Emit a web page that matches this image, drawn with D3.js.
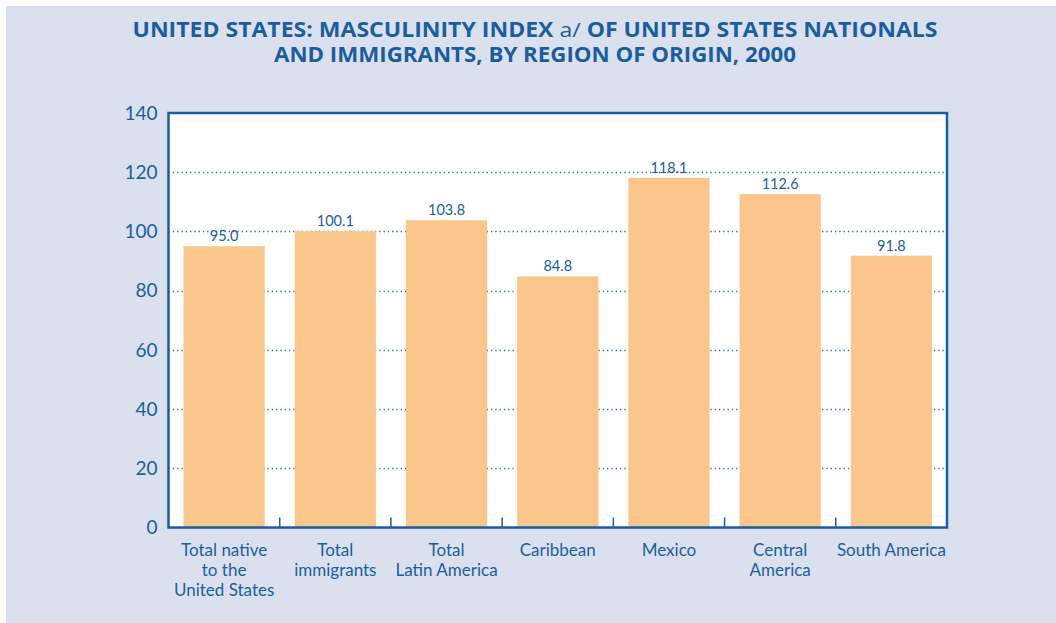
<!DOCTYPE html>
<html>
<head>
<meta charset="utf-8">
<script src="https://cdn.jsdelivr.net/npm/d3@7"></script>
<style>
  body { margin: 0; background: #fff; }
  text { font-family: Lato, "Open Sans", sans-serif; fill: #1b5e9f; }
  .title text { font-family: "Open Sans", sans-serif; }
</style>
</head>
<body>
<svg width="1056" height="623"></svg>
<script>
// data
var categories = [
    ["Total native", "to the", "United States"],
    ["Total", "immigrants"],
    ["Total", "Latin America"],
    ["Caribbean"],
    ["Mexico"],
    ["Central", "America"],
    ["South America"]
];
var values = [95.0, 100.1, 103.8, 84.8, 118.1, 112.6, 91.8];
var yTicks = [0, 20, 40, 60, 80, 100, 120, 140];

var blue = "#1b5e9f";
var svg = d3.select("svg");

// background panel
svg.append("rect")
    .attr("x", 6).attr("y", 6)
    .attr("width", 1050).attr("height", 617)
    .attr("fill", "#dbe0ee");

// title
var title = svg.append("g").attr("class", "title").attr("font-weight", "bold").attr("font-size", 20.5);
var t1 = title.append("text").attr("x", 535).attr("y", 37).attr("text-anchor", "middle")
    .attr("textLength", 805).attr("lengthAdjust", "spacingAndGlyphs");
t1.append("tspan").text("UNITED STATES: MASCULINITY INDEX ");
t1.append("tspan").attr("font-weight", "normal").text("a/");
t1.append("tspan").text(" OF UNITED STATES NATIONALS");
title.append("text").attr("x", 535).attr("y", 61.5).attr("text-anchor", "middle")
    .attr("textLength", 522).attr("lengthAdjust", "spacingAndGlyphs")
    .text("AND IMMIGRANTS, BY REGION OF ORIGIN, 2000");

// plot area
var pLeft = 168.5, pTop = 113, pRight = 947, pBottom = 527.5;
var w = pRight - pLeft, h = pBottom - pTop;

var x = d3.scaleBand()
    .domain(d3.range(categories.length))
    .range([0, w])
    .paddingInner(0.27)
    .paddingOuter(0.135);

var y = d3.scaleLinear().domain([0, 140]).range([h, 0]);

var g = svg.append("g").attr("transform", "translate(" + pLeft + "," + pTop + ")");

g.append("rect")
    .attr("width", w).attr("height", h)
    .attr("fill", "#fff");

// grid
g.selectAll(".grid")
    .data(yTicks.slice(1, -1))
    .enter()
    .append("line")
    .attr("x1", 0).attr("x2", w)
    .attr("y1", function (d) { return Math.round(y(d)) + 0.5; })
    .attr("y2", function (d) { return Math.round(y(d)) + 0.5; })
    .attr("stroke", "#2c6cab")
    .attr("stroke-width", 1.3)
    .attr("stroke-dasharray", "1.3,3");

// bars
g.selectAll(".bar")
    .data(values)
    .enter()
    .append("rect")
    .attr("x", function (d, i) { return x(i); })
    .attr("y", function (d) { return y(d); })
    .attr("width", x.bandwidth())
    .attr("height", function (d) { return h - y(d); })
    .attr("fill", "#fbc68b");

// value labels
g.selectAll(".val")
    .data(values)
    .enter()
    .append("text")
    .attr("x", function (d, i) { return x(i) + x.bandwidth() / 2; })
    .attr("y", function (d) { return y(d) - 5; })
    .attr("text-anchor", "middle")
    .attr("font-size", 14.5)
    .text(function (d) { return d.toFixed(1); });

// category ticks between bars
g.selectAll(".ctick")
    .data(d3.range(1, categories.length))
    .enter()
    .append("line")
    .attr("x1", function (i) { return x.step() * i; })
    .attr("x2", function (i) { return x.step() * i; })
    .attr("y1", h).attr("y2", h - 10)
    .attr("stroke", blue)
    .attr("stroke-width", 1.5);

// frame
g.append("rect")
    .attr("width", w).attr("height", h)
    .attr("fill", "none")
    .attr("stroke", blue)
    .attr("stroke-width", 2.5);

// y axis labels
g.selectAll(".ytick")
    .data(yTicks)
    .enter()
    .append("text")
    .attr("x", -11)
    .attr("y", function (d) { return y(d); })
    .attr("dy", "0.35em")
    .attr("text-anchor", "end")
    .attr("font-size", 19)
    .text(function (d) { return d; });

// category labels
var cl = g.selectAll(".cat")
    .data(categories)
    .enter()
    .append("text")
    .attr("text-anchor", "middle")
    .attr("font-size", 17)
    .attr("transform", function (d, i) { return "translate(" + (x(i) + x.bandwidth() / 2) + "," + (h + 28) + ")"; });

cl.selectAll("tspan")
    .data(function (d) { return d; })
    .enter()
    .append("tspan")
    .attr("x", 0)
    .attr("y", function (d, i) { return i * 20; })
    .text(function (d) { return d; });
</script>
</body>
</html>
